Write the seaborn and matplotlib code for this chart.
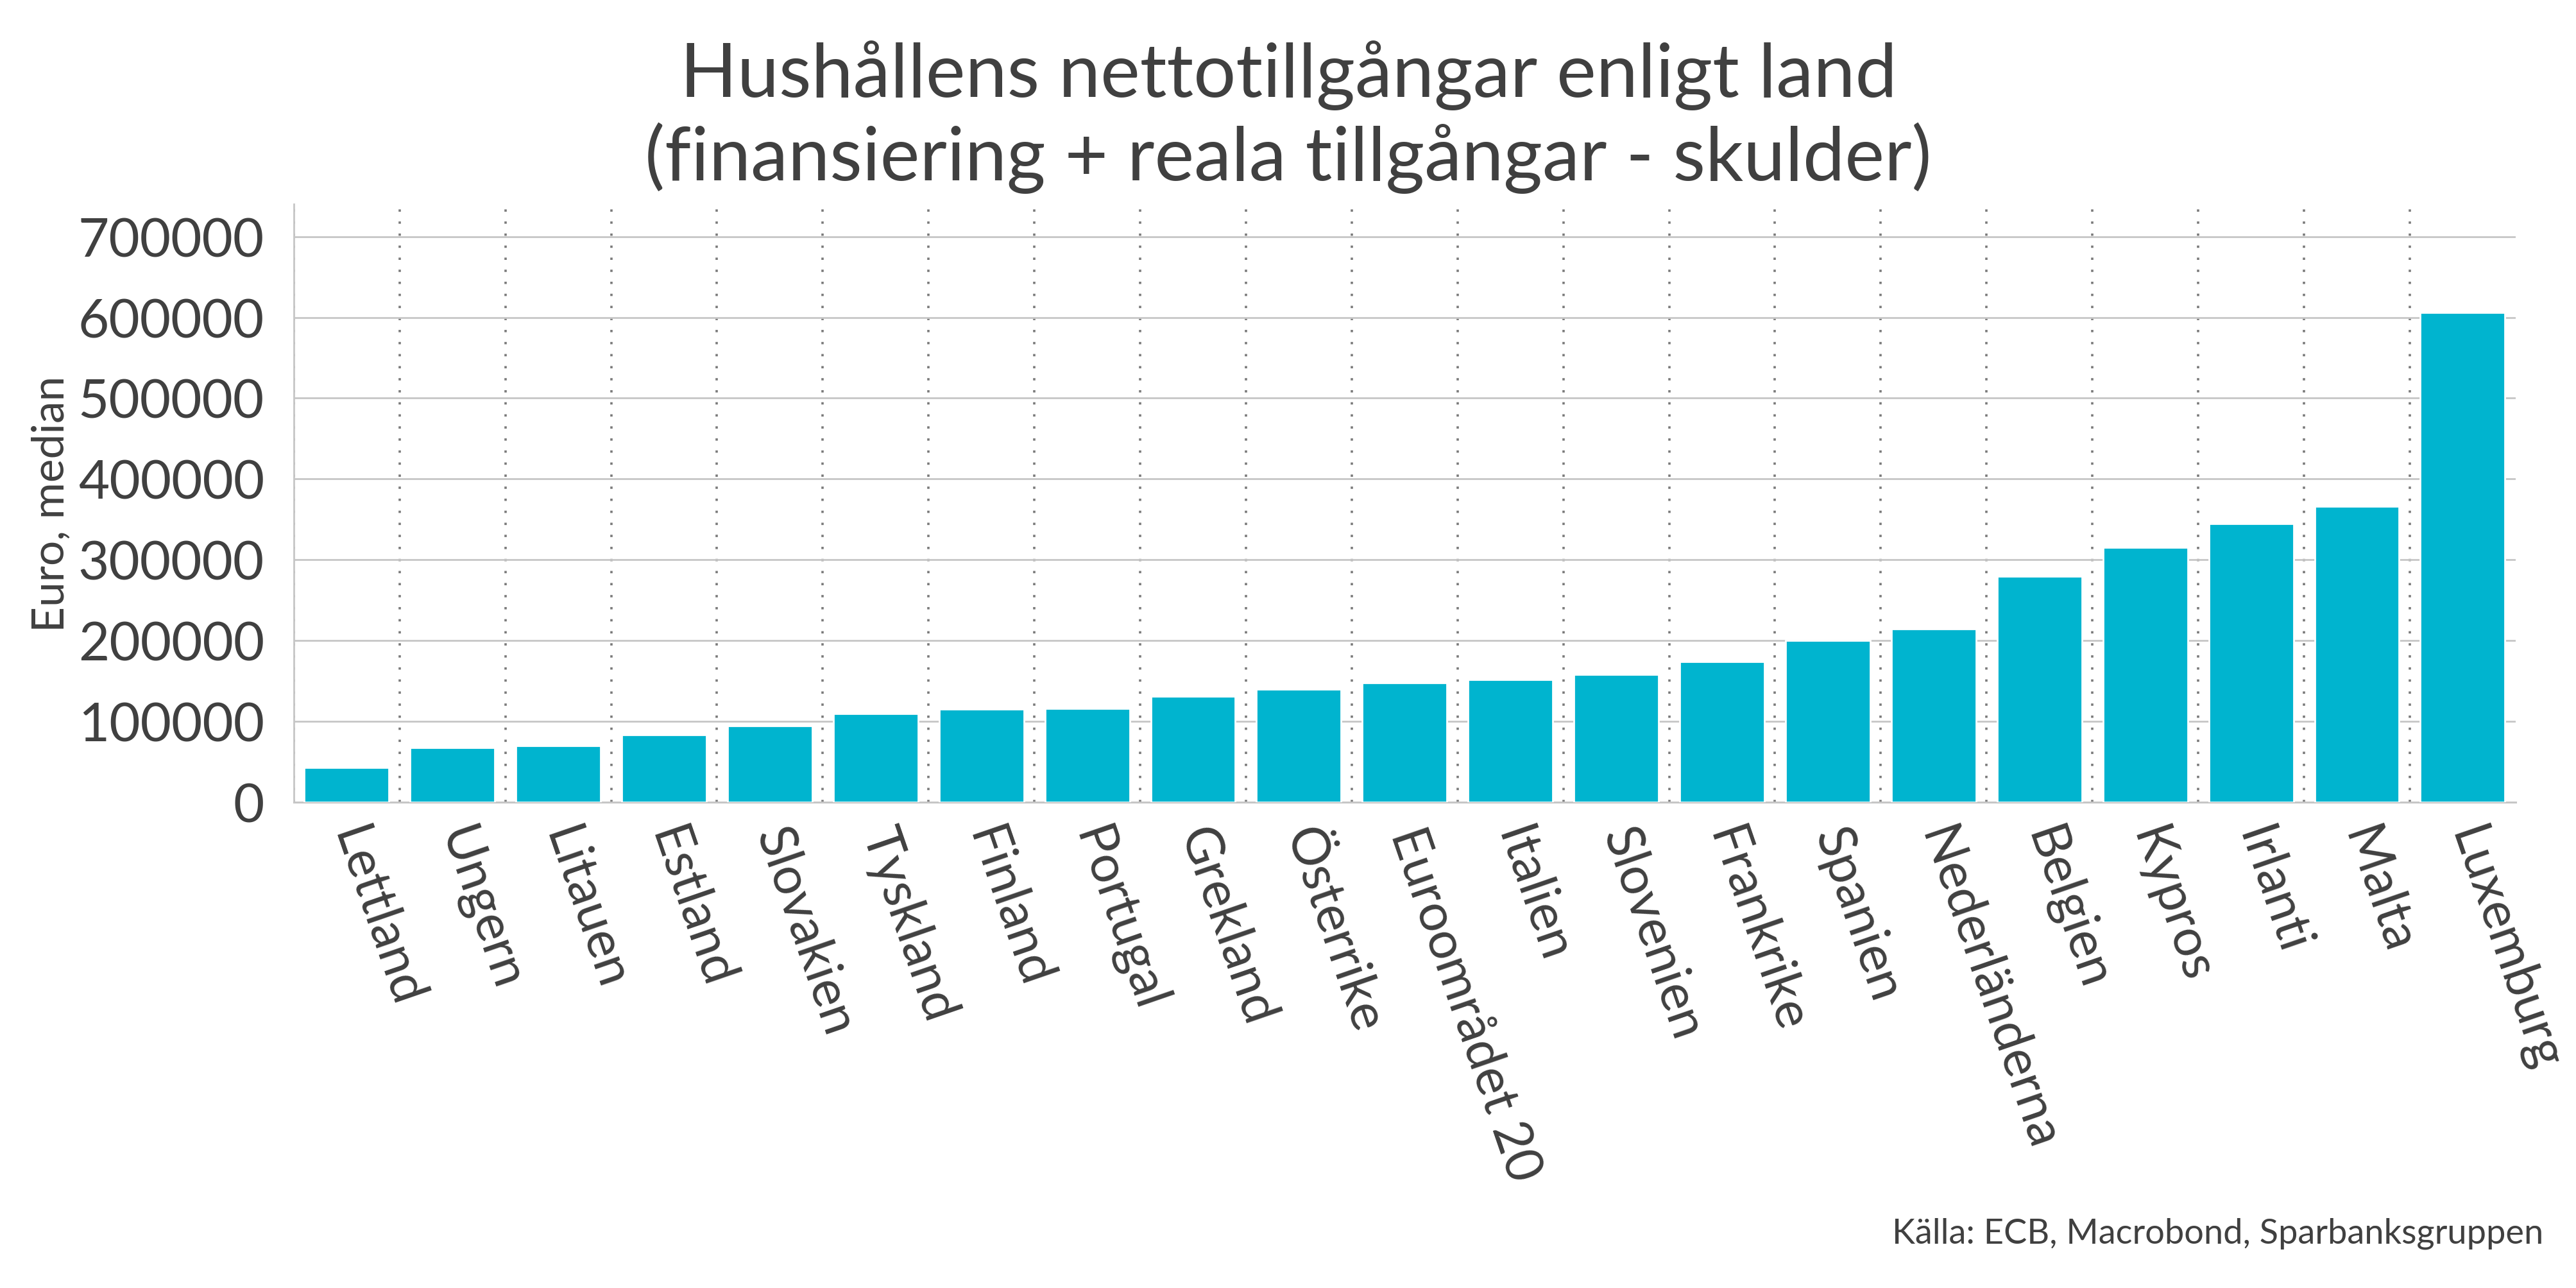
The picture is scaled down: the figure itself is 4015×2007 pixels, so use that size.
import numpy as np
import pandas as pd
import matplotlib
matplotlib.use("Agg")
import matplotlib.pyplot as plt
import seaborn as sns
from matplotlib.ticker import FixedLocator

# data
countries = ["Lettland", "Ungern", "Litauen", "Estland", "Slovakien", "Tyskland",
             "Finland", "Portugal", "Grekland", "Österrike", "Euroområdet 20",
             "Italien", "Slovenien", "Frankrike", "Spanien", "Nederländerna",
             "Belgien", "Kypros", "Irlanti", "Malta", "Luxemburg"]
net_assets = [43100, 67500, 69500, 83200, 94400, 109600,
              115200, 116200, 131000, 139600, 147700,
              151300, 158400, 173600, 200500, 214700,
              279200, 315200, 344700, 366000, 605600]
y_ticks = [0, 100000, 200000, 300000, 400000, 500000, 600000, 700000]

df = pd.DataFrame({"land": countries, "varde": net_assets})

text_col = "#404040"
bar_col = "#00B4CF"
grid_col = "#c6c6c6"

sns.set_style("white")
plt.rcParams["font.family"] = ["Lato", "DejaVu Sans"]

fig = plt.figure(figsize=(20.08, 10.04), dpi=200)
ax = fig.add_axes([0.114, 0.377, 0.8623, 0.464])

sns.barplot(data=df, x="land", y="varde", color=bar_col, saturation=1,
            width=0.8, ax=ax, zorder=3)

ax.set_xlim(-0.5, 20.5)
ax.set_ylim(0, 740000)
ax.set_yticks(y_ticks)
ax.set_yticklabels([str(v) for v in y_ticks])

# ticks and dotted gridlines sit between the bars
ax.xaxis.set_minor_locator(FixedLocator(np.arange(-0.5, 20.0, 1.0)))
ax.tick_params(axis="x", which="major", length=0, pad=15)
ax.tick_params(axis="x", which="minor", length=8.5, width=1.4, color=text_col)
ax.tick_params(axis="y", length=8.5, width=1.4, color=text_col, pad=8,
               labelsize=30, labelcolor=text_col)
ax.grid(axis="y", which="major", color=grid_col, lw=1.0, zorder=0)
ax.grid(axis="x", which="minor", color="#7a7a7a", lw=1.3,
        linestyle=(0, (1, 4.2)), zorder=0)
ax.grid(axis="x", which="major", visible=False)

for lab in ax.get_xticklabels():
    lab.set_rotation(-71)
    lab.set_rotation_mode("anchor")
    lab.set_ha("left")
    lab.set_va("center")
    lab.set_fontsize(29)
    lab.set_color(text_col)

for side in ["top", "right"]:
    ax.spines[side].set_visible(False)
ax.spines["left"].set_color(grid_col)
ax.spines["left"].set_linewidth(1.0)
ax.spines["bottom"].set_color(grid_col)
ax.spines["bottom"].set_linewidth(1.1)

ax.set_xlabel("")
ax.set_ylabel("Euro, median", fontsize=25, color=text_col)
ax.yaxis.set_label_coords(-0.100, 0.5)

fig.text(0.5, 0.909, "Hushållens nettotillgångar enligt land\n(finansiering + reala tillgångar - skulder)",
         ha="center", va="center", fontsize=42, color=text_col, linespacing=1.2)
fig.text(0.987, 0.035, "Källa: ECB, Macrobond, Sparbanksgruppen",
         ha="right", va="baseline", fontsize=19.5, color=text_col)

fig.savefig("out.png", dpi=200)
